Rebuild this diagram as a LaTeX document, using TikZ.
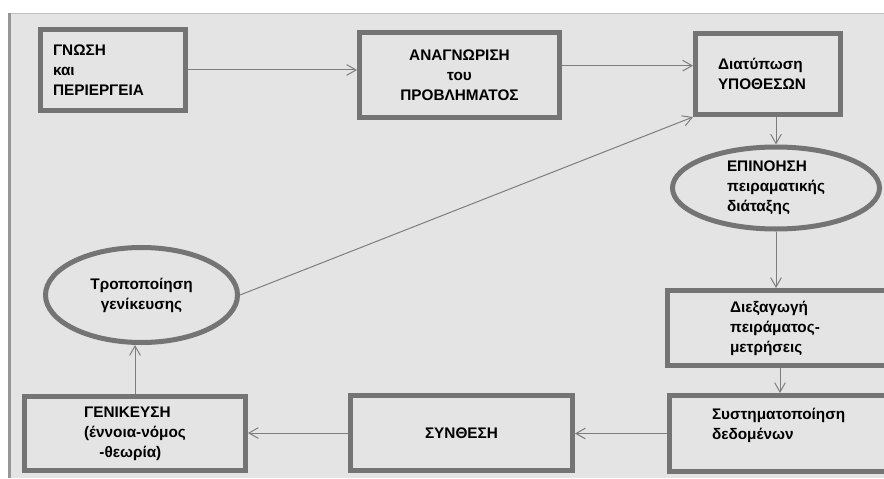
\documentclass[tikz,border=0pt]{standalone}
\usepackage{fontspec}
\setmainfont{Liberation Sans}
\usetikzlibrary{arrows.meta,shapes.geometric}
\definecolor{panel}{RGB}{228,228,228}
\definecolor{frame}{RGB}{116,116,116}
\definecolor{wire}{RGB}{125,125,125}
\definecolor{rim}{RGB}{150,150,150}
\begin{document}
\begin{tikzpicture}[x=0.75pt, y=-0.75pt,
    font=\fontsize{11.5}{15}\selectfont\bfseries,
    box/.style={draw=frame, line width=3.75pt, rectangle, inner sep=0pt},
    oval/.style={draw=frame, line width=3.75pt, ellipse, inner sep=0pt},
    link/.style={draw=wire, line width=0.75pt, -{Straight Barb[length=7pt, width=8pt]}}]
  \useasboundingbox (0,0) rectangle (884,478);
  \clip (0,0) rectangle (884,478);
  % window
  \fill[panel] (11,13) rectangle (884,478);
  \draw[rim, line width=2.25pt] (9.5,13) -- (9.5,478);
  \draw[rim!60, line width=0.75pt] (11,13.5) -- (884,13.5);
  % top row
  \node[box, minimum width=108.75pt, minimum height=60.75pt, text width=90pt, align=left] (gnosi) at (113,70) {ΓΝΩΣΗ\\και\\ΠΕΡΙΕΡΓΕΙΑ};
  \node[box, minimum width=150pt, minimum height=63.75pt, align=center] (anagnorisi) at (459.5,75) {ΑΝΑΓΝΩΡΙΣΗ\\του\\ΠΡΟΒΛΗΜΑΤΟΣ};
  \node[box, minimum width=108.75pt, minimum height=60.75pt, text width=75pt, align=left] (diatyposi) at (768,74) {Διατύπωση\\ΥΠΟΘΕΣΩΝ};
  % right column
  \node[oval, minimum width=155.25pt, minimum height=61.5pt, align=left] (epinoisi) at (776,188) {ΕΠΙΝΟΗΣΗ\\πειραματικής\\διάταξης};
  \node[box, minimum width=168.75pt, minimum height=56.25pt, text width=75pt, align=left] (diexagogi) at (780,328) {Διεξαγωγή\\πειράματος-\\μετρήσεις};
  \node[box, minimum width=168.75pt, minimum height=57pt, text width=105pt, align=left] (systim) at (782,433.5) {Συστηματοποίηση\\δεδομένων\\\mbox{}};
  % bottom row and left
  \node[box, minimum width=166.5pt, minimum height=56.25pt] (synthesi) at (461.5,433) {ΣΥΝΘΕΣΗ};
  \node[box, minimum width=165.75pt, minimum height=55.5pt, align=left] (genikeysi) at (135,433.5) {ΓΕΝΙΚΕΥΣΗ\\(έννοια-νόμος\\\hspace*{1em}-θεωρία)};
  \node[oval, minimum width=144pt, minimum height=71.25pt, align=center] (tropopoiisi) at (141.5,295) {Τροποποίηση\\γενίκευσης};
  % arrows
  \draw[link] (gnosi.east) -- (gnosi.east -| anagnorisi.west);
  \draw[link] ([yshift=7pt]anagnorisi.east) -- ([yshift=7pt]anagnorisi.east -| diatyposi.west);
  \draw[link] (epinoisi.north |- diatyposi.south) -- (epinoisi.north);
  \draw[link] (epinoisi.south) -- (epinoisi.south |- diexagogi.north);
  \draw[link] (diexagogi.south) -- (diexagogi.south |- systim.north);
  \draw[link] (systim.west) -- (systim.west -| synthesi.east);
  \draw[link] (synthesi.west) -- (synthesi.west -| genikeysi.east);
  \draw[link] (genikeysi.north) -- (genikeysi.north |- tropopoiisi.south);
  \draw[link] (tropopoiisi.east) -- (diatyposi.south west);
\end{tikzpicture}
\end{document}
